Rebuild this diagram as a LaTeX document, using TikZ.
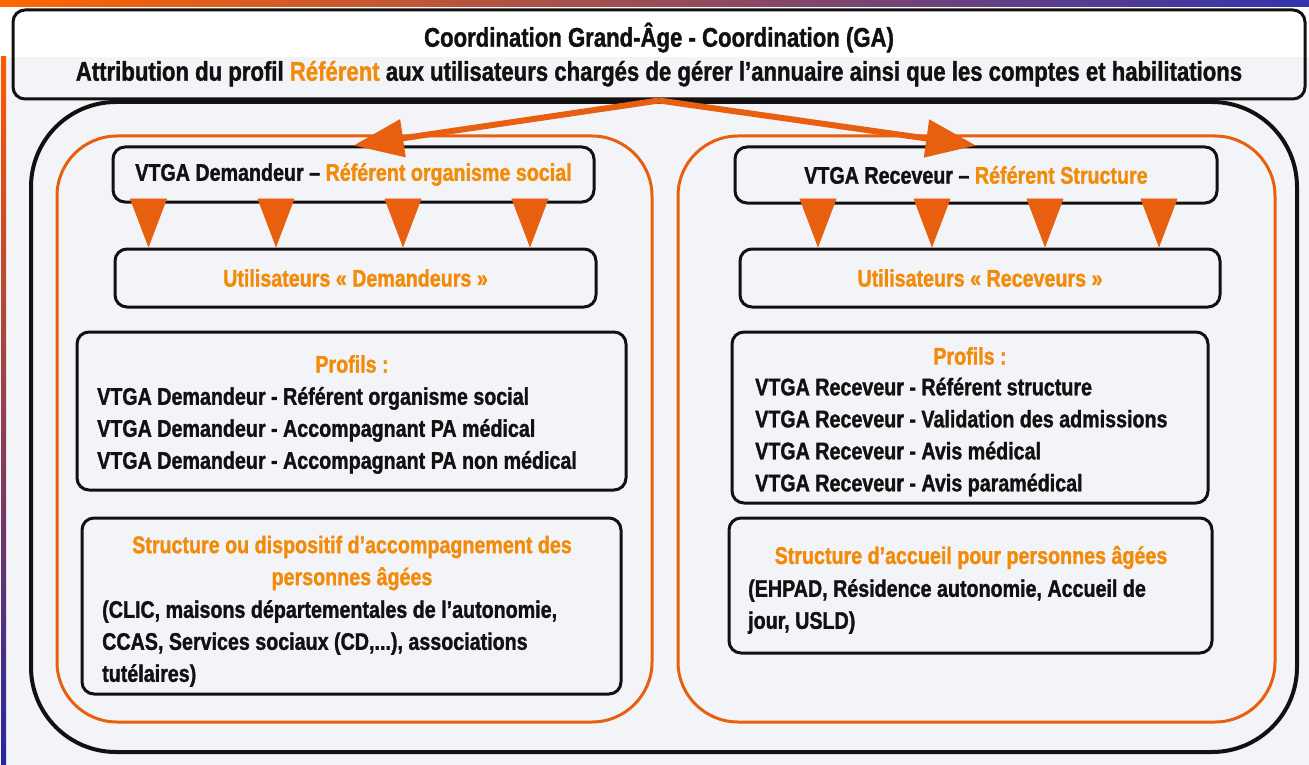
\documentclass[tikz,border=0pt]{standalone}
\usepackage{fontspec}
\setmainfont{Liberation Sans}[FakeStretch=0.82, BoldFeatures={FakeBold=1.3}]
\usepackage{xcolor}
\usepackage{tikz}
\usetikzlibrary{positioning,arrows.meta}
\definecolor{bggray}{HTML}{F3F4F8}
\definecolor{orline}{HTML}{E8600F}
\definecolor{ortext}{HTML}{F28A0A}
\definecolor{inkblk}{HTML}{111111}
\newcommand{\hl}[1]{\textcolor{ortext}{#1}}

\begin{document}
\begin{tikzpicture}[x=1pt,y=-1pt,
  box/.style={draw=inkblk, line width=3pt, rounded corners=12pt, inner sep=0pt, align=center, font=\fontsize{24}{32}\selectfont\bfseries, text=inkblk},
  frame/.style={draw=inkblk, line width=4pt, rounded corners=85pt, inner sep=0pt},
  zone/.style={draw=orline, line width=3pt, rounded corners=60pt, inner sep=0pt},
  txt/.style={inner sep=0pt, font=\fontsize{24}{32}\selectfont\bfseries, text=inkblk},
  bigarrow/.style={orline, line width=6pt, -{Triangle[length=50pt,width=37pt]}},
  tri/.style={orline, line width=0.5pt, -{Triangle[length=49pt,width=37pt]}}]
\useasboundingbox (0,0) rectangle (1309,765);
\fill[white] (0,0) rectangle (1309,57);
\fill[bggray] (0,57) rectangle (1309,765);
\shade[left color=orange!80!red, middle color=magenta!70!red, right color=blue!60!black!80] (0,0) rectangle (1309,7);
\shade[top color=orange!70!red, middle color=magenta!60!violet, bottom color=blue!55!black!85] (1,57) rectangle (6,765);

\node[box, minimum width=1292pt, minimum height=89pt, font=\fontsize{27}{34}\selectfont\bfseries] (ga) at (659,54.5)
  {Coordination Grand-Âge - Coordination (GA)\\
   Attribution du profil \hl{Référent} aux utilisateurs chargés de gérer l’annuaire ainsi que les comptes et habilitations};
\node[frame, minimum width=1266pt, minimum height=650pt] (all) at (664,427) {};
\node[zone, minimum width=595pt, minimum height=586pt] (zl) at (354.5,429) {};
\node[zone, minimum width=597pt, minimum height=586pt] (zr) at (976.5,429) {};

% demandeurs
\node[box, minimum width=481pt, minimum height=55pt] (dl) at (353.5,174.5) {VTGA Demandeur – \hl{Référent organisme social}};
\node[box, minimum width=481pt, minimum height=58pt] (ul) at (355.5,278) {\hl{Utilisateurs « Demandeurs »}};
\node[box, minimum width=549pt, minimum height=158pt] (pl) at (351.5,411) {};
\node[box, minimum width=539pt, minimum height=176pt] (sl) at (351.5,606) {};
\node[txt] (plt) at (352,364) {\hl{Profils :}};
\node[txt, anchor=west, align=left] (plb) at (97,430.5)
  {VTGA Demandeur - Référent organisme social\\
   VTGA Demandeur - Accompagnant PA médical\\
   VTGA Demandeur - Accompagnant PA non médical};
\node[txt, align=center] (slt) at (352,563)
  {\hl{Structure ou dispositif d’accompagnement des}\\\hl{personnes âgées}};
\node[txt, anchor=west, align=left] (slb) at (102,643.5)
  {(CLIC, maisons départementales de l’autonomie,\\
   CCAS, Services sociaux (CD,...), associations\\
   tutélaires)};

% receveurs
\node[box, minimum width=482pt, minimum height=56pt] (dr) at (976,175) {VTGA Receveur – \hl{Référent Structure}};
\node[box, minimum width=480pt, minimum height=58pt] (ur) at (980,278) {\hl{Utilisateurs « Receveurs »}};
\node[box, minimum width=476pt, minimum height=171pt] (pr) at (970,417.5) {};
\node[box, minimum width=483pt, minimum height=135pt] (sr) at (970.5,585.5) {};
\node[txt] (prt) at (970,356) {\hl{Profils :}};
\node[txt, anchor=west, align=left] (prb) at (755,437)
  {VTGA Receveur - Référent structure\\
   VTGA Receveur - Validation des admissions\\
   VTGA Receveur - Avis médical\\
   VTGA Receveur - Avis paramédical};
\node[txt] (srt) at (971,557.5) {\hl{Structure d’accueil pour personnes âgées}};
\node[txt, anchor=west, align=left] (srb) at (748,606.5)
  {(EHPAD, Résidence autonomie, Accueil de\\
   jour, USLD)};

\draw[bigarrow] (ga.south) -- (dl.north);
\draw[bigarrow] (ga.south) -- (dr.north);
\foreach \x in {148.5,276,403,530}
  \draw[tri] (\x,200) -- (ul.north -| \x,0);
\foreach \x in {818,932,1045,1159}
  \draw[tri] (\x,200) -- (ur.north -| \x,0);
\end{tikzpicture}
\end{document}
